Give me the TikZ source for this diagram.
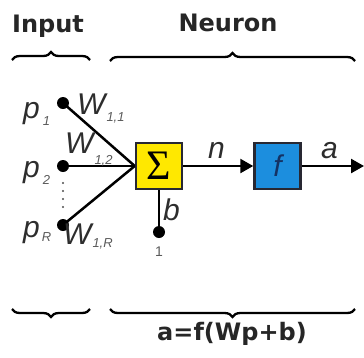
\documentclass[tikz,border=0pt]{standalone}
\usepackage{fontspec}
\setmainfont{Liberation Sans}
\newfontfamily\dvs{DejaVu Sans}
\newfontfamily\lserif{Liberation Serif}
\usetikzlibrary{arrows.meta,decorations.pathreplacing}
\definecolor{boxyellow}{RGB}{255,232,0}
\definecolor{boxblue}{RGB}{28,142,222}
\definecolor{edgecol}{RGB}{40,40,50}
\definecolor{labcol}{RGB}{45,45,45}
\definecolor{subcol}{RGB}{90,90,90}
\definecolor{fcol}{RGB}{20,50,100}
\newcommand{\sbs}[2][-7pt]{\raisebox{#1}{\fontsize{13}{13}\selectfont\color{subcol}#2}}
\begin{document}
\begin{tikzpicture}[x=1pt,y=-1pt,
 title/.style={font=\dvs\bfseries\fontsize{24}{24}\selectfont, text=black!85, inner sep=0, anchor=base},
 lab/.style={font=\fontsize{30}{30}\selectfont\itshape, text=labcol, inner sep=0, anchor=base west},
 dotnode/.style={circle, fill=black, inner sep=0, minimum size=12pt},
 smalldot/.style={circle, fill=black!70, inner sep=0, minimum size=2.4pt},
 conn/.style={line width=2.5pt, draw=black},
 arr/.style={conn, -{Triangle[length=13pt,width=14pt]}},
 brcu/.style={decorate, decoration={brace, amplitude=8pt}, line width=2.3pt},
 brcd/.style={decorate, decoration={brace, mirror, amplitude=8pt}, line width=2.3pt},
 fbox/.style={draw=edgecol, line width=2.5pt, minimum width=46pt, minimum height=46pt, inner sep=0}]
\useasboundingbox (0,0) rectangle (364,357);
% titles
\node[title] (tin) at (48,32) {Input};
\node[title] (tneu) at (228,31) {Neuron};
% braces
\coordinate (bi1) at (12,60); \coordinate (bi2) at (90,60);
\coordinate (bn1) at (110,61); \coordinate (bn2) at (355,61);
\draw[brcu] (bi1) -- (bi2);
\draw[brcu] (bn1) -- (bn2);
\coordinate (ci1) at (12,309); \coordinate (ci2) at (90,309);
\coordinate (cn1) at (110,309); \coordinate (cn2) at (355,309);
\draw[brcd] (ci1) -- (ci2);
\draw[brcd] (cn1) -- (cn2);
% boxes
\node[fbox, fill=boxyellow] (S) at (159,166) {\lserif\fontsize{42}{42}\selectfont Σ};
\node[fbox, fill=boxblue] (F) at (277.5,166) {\color{fcol}\fontsize{30}{30}\selectfont\itshape f};
% input dots
\node[dotnode] (p1d) at (63,103) {};
\node[dotnode] (p2d) at (63,166) {};
\node[dotnode] (pRd) at (63,225) {};
\node[dotnode] (bd) at (159,232) {};
\foreach \i/\yy in {1/183,2/191,3/199,4/207} \node[smalldot] (vd\i) at (63,\yy) {};
% connectors
\draw[conn] (p1d.center) -- (S.west);
\draw[conn] (p2d.center) -- (S.west);
\draw[conn] (pRd.center) -- (S.west);
\draw[conn] (bd.center) -- (S.south);
\draw[arr] (S.east) -- (F.west);
\coordinate (out) at (364,166);
\draw[arr] (F.east) -- (out);
% labels
\node[lab] (lp1) at (23,118) {p\hspace{3pt}\sbs{1}};
\node[lab] (lp2) at (23,177) {p\hspace{3pt}\sbs{2}};
\node[lab] (lpR) at (23,237) {p\hspace{2pt}\sbs[-4pt]{R}};
\node[lab] (lw11) at (77,114) {W\hspace{1pt}\sbs[-7pt]{1,1}};
\node[lab] (lw12) at (65,153) {W\hspace{1pt}\sbs[-11pt]{1,2}};
\node[lab] (lw1R) at (63,244) {W\hspace{1pt}\sbs[-3pt]{1,R}};
\node[lab] (ln) at (208,158) {n};
\node[lab] (la) at (321,158) {a};
\node[lab] (lb) at (163,220) {b};
\node[font=\fontsize{14}{14}\selectfont, text=subcol, inner sep=0] (l1) at (159,252) {1};
% formula
\node[title] (form) at (232,340) {a=f(Wp+b)};
\end{tikzpicture}
\end{document}
